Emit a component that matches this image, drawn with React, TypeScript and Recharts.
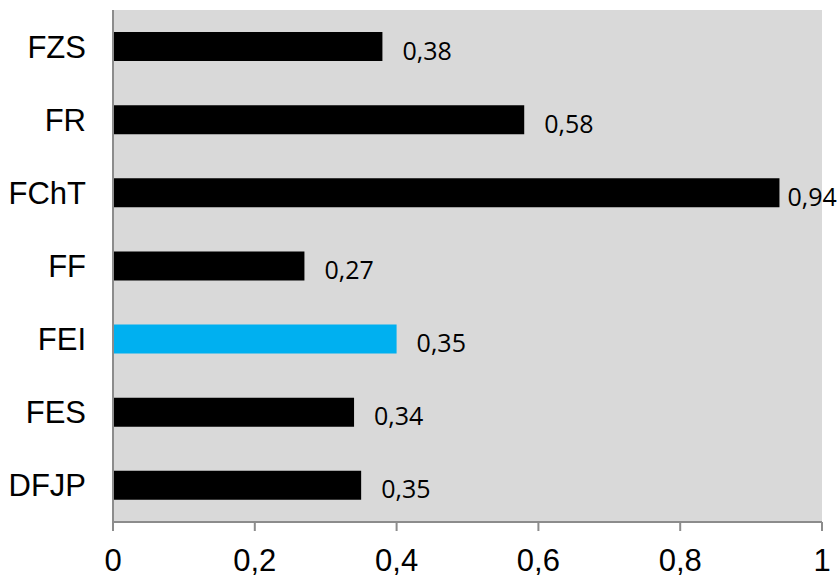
import React from 'react';
import { BarChart, Bar, XAxis, YAxis, CartesianGrid, Cell, LabelList } from 'recharts';

const categories = ['FZS', 'FR', 'FChT', 'FF', 'FEI', 'FES', 'DFJP'];
const barValues = [0.38, 0.58, 0.94, 0.27, 0.40, 0.34, 0.35];
const labelValues = [0.38, 0.58, 0.94, 0.27, 0.35, 0.34, 0.35];
const xTicks = [0, 0.2, 0.4, 0.6, 0.8, 1];
const highlighted = 'FEI';

const W = 838;
const H = 580;

const data = categories.map((name, i) => ({ name, value: barValues[i], label: labelValues[i] }));

const fmt = (v: number) => String(v).replace('.', ',');

const LABEL_FONT = 25;

const renderLabel = (props: any) => {
  const { x, y, width, height, index } = props;
  const text = fmt(labelValues[index]);
  const end = Number(x) + Number(width);
  const approx = text.length * 0.5 * LABEL_FONT;
  let lx = end + 20;
  if (lx + approx > W - 2) lx = end + 8;
  return (
    <text
      x={lx}
      y={Number(y) + Number(height) / 2 + 3}
      dominantBaseline="central"
      fontFamily="'Open Sans', 'Noto Sans', sans-serif"
      fontSize={LABEL_FONT}
      fill="#000"
    >
      {text}
    </text>
  );
};

export default function App() {
  return (
    <div style={{ position: 'absolute', left: 0, top: 0, width: W, height: H, background: '#fff' }}>
      <BarChart
        width={W}
        height={H}
        data={data}
        layout="vertical"
        margin={{ top: 10, right: 16, bottom: 0, left: 0 }}
        barSize={29}
      >
        <CartesianGrid horizontal={false} vertical={false} fill="#d9d9d9" stroke="none" />
        <XAxis
          type="number"
          domain={[0, 1]}
          ticks={xTicks}
          tickFormatter={(v: number) => fmt(v)}
          axisLine={{ stroke: '#8c8c8c', strokeWidth: 2 }}
          tickLine={{ stroke: '#8c8c8c', strokeWidth: 2 }}
          tickSize={9}
          tickMargin={18}
          height={58}
          interval={0}
          tick={{ fill: '#000', fontSize: 31, fontFamily: "'Liberation Sans', Arial, sans-serif" }}
        />
        <YAxis
          type="category"
          dataKey="name"
          width={113}
          axisLine={{ stroke: '#8c8c8c', strokeWidth: 2 }}
          tickLine={false}
          tickSize={0}
          tickMargin={27}
          interval={0}
          tick={{ fill: '#000', fontSize: 31, fontFamily: "'Liberation Sans', Arial, sans-serif" }}
        />
        <Bar dataKey="value" isAnimationActive={false}>
          {data.map((d) => (
            <Cell key={d.name} fill={d.name === highlighted ? '#00b0f0' : '#000000'} />
          ))}
          <LabelList dataKey="label" content={renderLabel} />
        </Bar>
      </BarChart>
    </div>
  );
}
